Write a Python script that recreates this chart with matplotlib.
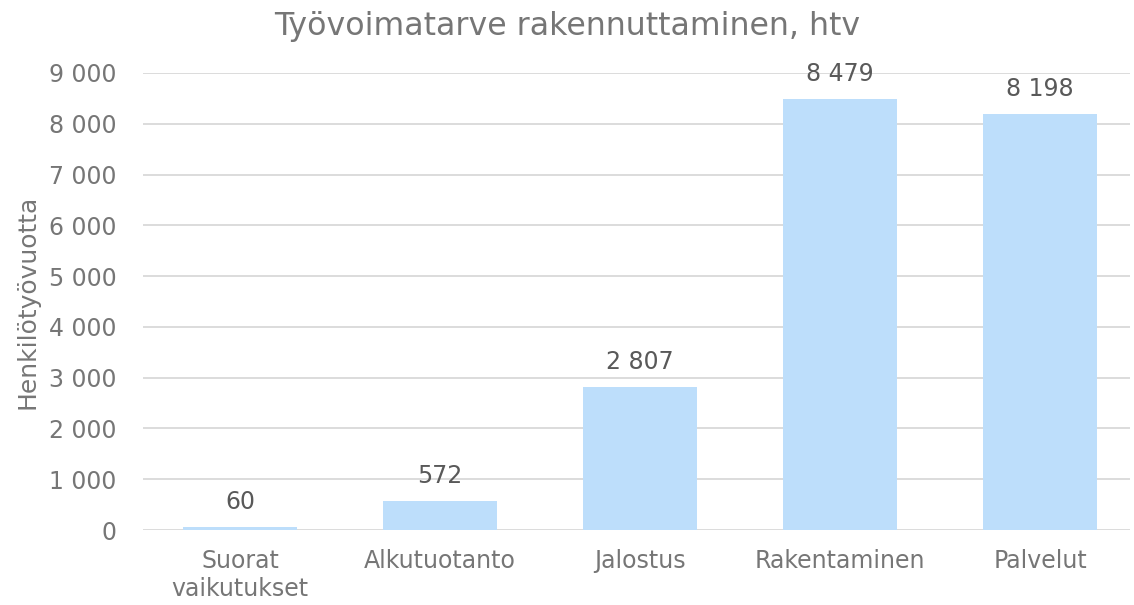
import matplotlib
matplotlib.use("Agg")
import matplotlib.pyplot as plt
from matplotlib.ticker import FuncFormatter

categories = ["Suorat\nvaikutukset", "Alkutuotanto", "Jalostus", "Rakentaminen", "Palvelut"]
values = [60, 572, 2807, 8479, 8198]
labels = ["60", "572", "2 807", "8 479", "8 198"]
yticks = [0, 1000, 2000, 3000, 4000, 5000, 6000, 7000, 8000, 9000]

plt.rcParams['font.family'] = ['DejaVu Sans']
dark = "#595959"
light = "#767676"

fig = plt.figure(figsize=(11.34, 6.05), dpi=100)
W, H = 1134, 605
ax = fig.add_axes([143 / W, (H - 530) / H, (1130 - 143) / W, (530 - 73) / H])

x = list(range(len(categories)))
ax.bar(x, values, width=0.57, color="#BDDEFB", zorder=3)
for xi, v, lab in zip(x, values, labels):
    ax.annotate(lab, (xi, v), xytext=(0, 9.5), textcoords="offset points",
                ha="center", va="bottom", fontsize=17, color=dark)

ax.set_xlim(-0.485, 4.45)
ax.set_ylim(0, 9000)
ax.set_yticks(yticks)
ax.yaxis.set_major_formatter(FuncFormatter(lambda v, p: f"{int(v):,}".replace(",", " ")))
ax.set_xticks(x)
ax.set_xticklabels(categories, fontsize=17, color=light, linespacing=1.2)
ax.tick_params(axis="y", labelsize=17, labelcolor=light, length=0, pad=19)
ax.tick_params(axis="x", length=0, pad=14)
ax.grid(axis="y", color="#D9D9D9", linewidth=1.3, zorder=0)
for s in ax.spines.values():
    s.set_visible(False)
ax.set_ylabel("Henkilötyövuotta", fontsize=18, color=light, labelpad=7)
fig.text(0.5, 1 - 26 / H, "Työvoimatarve rakennuttaminen, htv", ha="center", va="center",
         fontsize=22.8, color=light)
fig.savefig("out.png", dpi=100)
